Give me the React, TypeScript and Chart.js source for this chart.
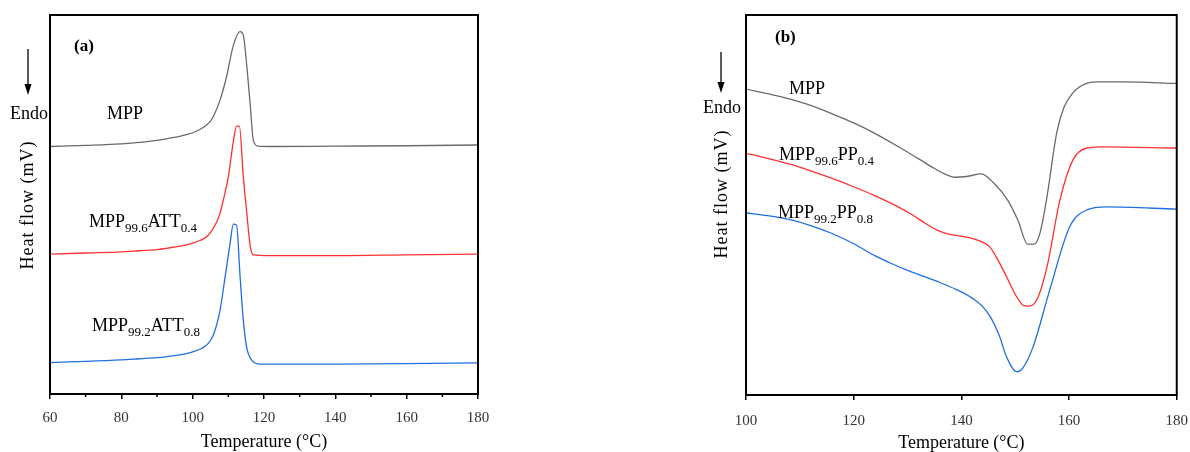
import React, { useEffect, useRef } from 'react';
import { Chart, registerables } from 'chart.js';
Chart.register(...registerables);

// ---------- Panel (a) data ----------
const aTempMPP = [60, 70, 80, 85, 90, 93, 96.4, 98.5, 100.2, 102, 103.9, 105, 105.8, 107.7, 109.5, 111.3, 113.3, 114.2, 115.1, 116.1, 117, 118.4, 121.7, 140, 160, 180];
const aHeatMPP = [65.3, 65.6, 66.0, 66.4, 66.9, 67.4, 68.0, 68.5, 69.0, 69.8, 71.0, 72.0, 73.2, 77.6, 83.7, 91.6, 95.6, 94.7, 87.3, 76.7, 67.0, 65.4, 65.3, 65.4, 65.5, 65.7];

const aTempATT04 = [60, 70, 80, 85, 90, 93, 96.4, 98.5, 100.2, 102, 103.9, 105.3, 106.7, 107.7, 108.6, 110, 111.4, 112.3, 113.1, 114.2, 115.1, 116.1, 117, 121.7, 140, 160, 180];
const aHeatATT04 = [36.9, 37.2, 37.5, 37.8, 38.1, 38.5, 39.0, 39.4, 39.9, 40.5, 41.5, 43.0, 45.3, 47.8, 51.2, 57.3, 66.6, 70.7, 70.7, 57.3, 48.5, 39.3, 36.7, 36.5, 36.5, 36.7, 36.9];

const aTempATT08 = [60, 70, 80, 85, 90, 93, 96.4, 98.5, 100.2, 102, 103, 104.5, 105.8, 106.8, 107.7, 109.1, 110.5, 111.4, 112.3, 113.3, 114.2, 115.1, 116.5, 118.9, 125, 140, 160, 180];
const aHeatATT08 = [8.3, 8.6, 9.0, 9.3, 9.6, 9.9, 10.3, 10.7, 11.2, 11.8, 12.3, 13.5, 15.6, 18.5, 22.2, 30.9, 39.8, 44.8, 44.6, 30.9, 19.5, 12.5, 9.0, 7.9, 7.9, 7.9, 8.0, 8.2];

const aTicks = [60, 80, 100, 120, 140, 160, 180];
const aMinorTicks = [70, 90, 110, 130, 150, 170];

// ---------- Panel (b) data ----------
const bTempMPP = [100, 104, 108, 112, 116, 120, 124, 128, 132, 135, 137, 138.8, 141, 143.7, 146, 148.6, 150.5, 152.3, 153.5, 154.6, 155.8, 157.7, 159, 160.7, 162.9, 165.1, 170, 180];
const bHeatMPP = [80.5, 79.3, 77.9, 76.2, 74.0, 71.6, 68.8, 65.6, 62.2, 59.6, 58.1, 57.3, 57.5, 58.2, 55.8, 51.3, 46.0, 39.7, 39.7, 42.6, 51.3, 68.9, 75.5, 79.5, 81.8, 82.4, 82.4, 82.0];

const bTempPP04 = [100, 104, 108, 112, 116, 120, 124, 128, 131, 133.5, 135.5, 137.5, 139.5, 141.5, 143.5, 145.3, 146.8, 148.4, 150, 151.4, 152.3, 154, 155.9, 158.3, 160.7, 163.3, 166.3, 180];
const bHeatPP04 = [63.6, 62.3, 60.8, 59.0, 57.0, 54.8, 52.4, 49.7, 47.3, 45.0, 43.4, 42.4, 41.9, 41.4, 40.5, 38.9, 35.5, 31.1, 26.5, 23.7, 23.4, 25.0, 33.7, 51.3, 61.8, 65.0, 65.3, 65.0];

const bTempPP08 = [100, 104, 108, 112, 116, 120, 124, 127, 130, 133, 136, 139, 142, 144, 145.5, 147, 148.4, 150.3, 151.4, 153.3, 156.4, 160.1, 163.3, 167, 180];
const bHeatPP08 = [47.9, 47.2, 46.2, 44.6, 42.5, 39.8, 36.6, 34.6, 32.8, 31.2, 29.6, 27.8, 25.5, 23.2, 20.3, 15.8, 10.0, 6.1, 7.1, 12.6, 27.6, 44.2, 48.7, 49.5, 48.9];

const bTicks = [100, 120, 140, 160, 180];

const GRAY = '#6a6a6a';
const RED = '#ff3030';
const BLUE = '#1f6fe0';
const FONT = '"Liberation Serif", "Times New Roman", serif';

type Part = [string, boolean];
type Label = { x: number; y: number; parts: Part[] };

function pts(t: number[], v: number[]) {
  return t.map((x, i) => ({ x, y: v[i] }));
}

function drawRich(ctx: CanvasRenderingContext2D, x: number, y: number, parts: Part[]) {
  let cx = x;
  ctx.textBaseline = 'alphabetic';
  ctx.textAlign = 'left';
  ctx.fillStyle = '#000';
  for (const [txt, sub] of parts) {
    ctx.font = sub ? `13px ${FONT}` : `18px ${FONT}`;
    ctx.fillText(txt, cx, sub ? y + 5 : y);
    cx += ctx.measureText(txt).width;
  }
}

function makeDecor(cfg: {
  panel: string; panelX: number; panelY: number;
  endoX: number; endoY: number; arrowX: number; arrowY1: number; arrowY2: number;
  yTitleX: number; yTitleY: number; labels: Label[]; minor: number[];
}) {
  return {
    id: 'decor',
    afterDraw(chart: any) {
      const ctx: CanvasRenderingContext2D = chart.ctx;
      const { left, right, top, bottom } = chart.chartArea;
      const xs = chart.scales.x;
      ctx.save();
      // frame
      ctx.strokeStyle = '#000';
      ctx.lineWidth = 2;
      ctx.strokeRect(left, top, right - left, bottom - top);
      // minor ticks
      ctx.lineWidth = 1.5;
      for (const m of cfg.minor) {
        const px = xs.getPixelForValue(m);
        ctx.beginPath();
        ctx.moveTo(px, bottom);
        ctx.lineTo(px, bottom + 3);
        ctx.stroke();
      }
      // panel label
      ctx.fillStyle = '#000';
      ctx.font = `bold 17px ${FONT}`;
      ctx.textAlign = 'left';
      ctx.textBaseline = 'middle';
      ctx.fillText(cfg.panel, cfg.panelX, cfg.panelY);
      // Endo + arrow
      ctx.font = `18px ${FONT}`;
      ctx.textBaseline = 'alphabetic';
      ctx.fillText('Endo', cfg.endoX, cfg.endoY);
      ctx.lineWidth = 1.3;
      ctx.beginPath();
      ctx.moveTo(cfg.arrowX, cfg.arrowY1);
      ctx.lineTo(cfg.arrowX, cfg.arrowY2 - 8);
      ctx.stroke();
      ctx.beginPath();
      ctx.moveTo(cfg.arrowX, cfg.arrowY2);
      ctx.lineTo(cfg.arrowX - 3.5, cfg.arrowY2 - 11);
      ctx.lineTo(cfg.arrowX + 3.5, cfg.arrowY2 - 11);
      ctx.closePath();
      ctx.fill();
      // y title
      ctx.save();
      ctx.translate(cfg.yTitleX, cfg.yTitleY);
      ctx.rotate(-Math.PI / 2);
      ctx.font = `18px ${FONT}`;
      (ctx as any).letterSpacing = '1px';
      ctx.textAlign = 'center';
      ctx.textBaseline = 'middle';
      ctx.fillText('Heat flow (mV)', 0, 0);
      ctx.restore();
      // curve labels
      for (const l of cfg.labels) drawRich(ctx, l.x, l.y, l.parts);
      ctx.restore();
    },
  };
}

function makeConfig(
  series: { t: number[]; v: number[]; color: string }[],
  xmin: number, xmax: number, ticks: number[],
  pad: { left: number; right: number; top: number }, axisH: number,
  tickPad: number, titlePad: number, decor: any
): any {
  return {
    type: 'line',
    data: {
      datasets: series.map((s) => ({
        data: pts(s.t, s.v),
        borderColor: s.color,
        borderWidth: 1.3,
        pointRadius: 0,
        fill: false,
        cubicInterpolationMode: 'monotone',
      })),
    },
    options: {
      animation: false,
      responsive: false,
      maintainAspectRatio: false,
      devicePixelRatio: 1,
      layout: { padding: { left: pad.left, right: pad.right, top: pad.top, bottom: 0 } },
      plugins: { legend: { display: false }, tooltip: { enabled: false } },
      scales: {
        x: {
          type: 'linear',
          min: xmin,
          max: xmax,
          afterBuildTicks: (s: any) => { s.ticks = ticks.map((v) => ({ value: v })); },
          afterFit: (s: any) => { s.height = axisH; },
          ticks: {
            font: { family: FONT, size: 15 },
            color: '#333',
            padding: tickPad,
            maxRotation: 0,
            autoSkip: false,
          },
          grid: { drawOnChartArea: false, tickLength: 5, color: '#000', lineWidth: 1.5 },
          border: { display: false },
          title: {
            display: true,
            text: 'Temperature (°C)',
            font: { family: FONT, size: 18 },
            color: '#000',
            padding: { top: 0, bottom: titlePad },
          },
        },
        y: { display: false, min: 0, max: 100 },
      },
    },
    plugins: [decor],
  };
}

function Panel(props: { left: number; width: number; config: () => any }) {
  const ref = useRef<HTMLCanvasElement>(null);
  useEffect(() => {
    const chart = new Chart(ref.current!, props.config());
    return () => chart.destroy();
  }, []);
  return (
    <canvas
      ref={ref}
      width={props.width}
      height={460}
      style={{ position: 'absolute', left: props.left, top: 0, width: props.width, height: 460 }}
    />
  );
}

export default function App() {
  const cfgA = () =>
    makeConfig(
      [
        { t: aTempMPP, v: aHeatMPP, color: GRAY },
        { t: aTempATT04, v: aHeatATT04, color: RED },
        { t: aTempATT08, v: aHeatATT08, color: BLUE },
      ],
      60, 180, aTicks, { left: 50, right: 22, top: 15 }, 66, 10, 7,
      makeDecor({
        panel: '(a)', panelX: 74, panelY: 47,
        endoX: 10, endoY: 119, arrowX: 28, arrowY1: 49, arrowY2: 95,
        yTitleX: 28, yTitleY: 205,
        minor: aMinorTicks,
        labels: [
          { x: 107, y: 119, parts: [['MPP', false]] },
          { x: 89, y: 227, parts: [['MPP', false], ['99.6', true], ['ATT', false], ['0.4', true]] },
          { x: 92, y: 331, parts: [['MPP', false], ['99.2', true], ['ATT', false], ['0.8', true]] },
        ],
      })
    );
  const cfgB = () =>
    makeConfig(
      [
        { t: bTempMPP, v: bHeatMPP, color: GRAY },
        { t: bTempPP04, v: bHeatPP04, color: RED },
        { t: bTempPP08, v: bHeatPP08, color: BLUE },
      ],
      100, 180, bTicks, { left: 56, right: 23, top: 15 }, 65, 12, 6,
      makeDecor({
        panel: '(b)', panelX: 85, panelY: 38,
        endoX: 13, endoY: 113, arrowX: 31, arrowY1: 52, arrowY2: 93,
        yTitleX: 32, yTitleY: 194,
        minor: [],
        labels: [
          { x: 99, y: 94, parts: [['MPP', false]] },
          { x: 89, y: 160, parts: [['MPP', false], ['99.6', true], ['PP', false], ['0.4', true]] },
          { x: 88, y: 218, parts: [['MPP', false], ['99.2', true], ['PP', false], ['0.8', true]] },
        ],
      })
    );
  return (
    <div style={{ position: 'fixed', left: 0, top: 0, width: 1190, height: 452, overflow: 'hidden', background: '#fff' }}>
      <Panel left={0} width={500} config={cfgA} />
      <Panel left={690} width={510} config={cfgB} />
    </div>
  );
}
